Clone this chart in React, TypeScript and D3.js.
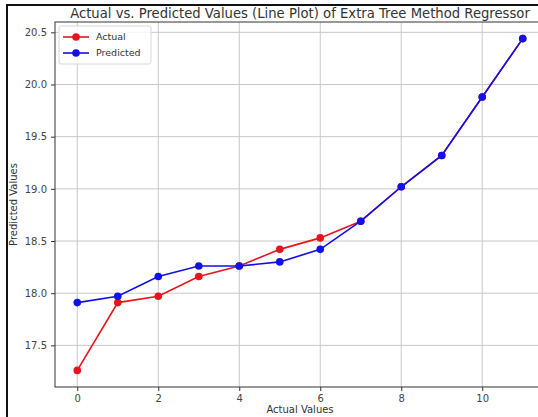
import React, { useEffect, useRef } from "react";
import * as d3 from "d3";

// values
const indexes = [0, 1, 2, 3, 4, 5, 6, 7, 8, 9, 10, 11];
const actualValues = [17.26, 17.91, 17.97, 18.16, 18.26, 18.42, 18.53, 18.69, 19.02, 19.32, 19.88, 20.44];
const predictedValues = [17.91, 17.97, 18.16, 18.26, 18.26, 18.3, 18.42, 18.69, 19.02, 19.32, 19.88, 20.44];
const xTicks = [0, 2, 4, 6, 8, 10];
const yTicks = [17.5, 18.0, 18.5, 19.0, 19.5, 20.0, 20.5];
const seriesNames = ["Actual", "Predicted"];
const seriesColors = ["#e8141c", "#1010e8"];

const W = 538;
const H = 417;

export default function App() {
  const ref = useRef<SVGSVGElement>(null);

  useEffect(() => {
    const svg = d3.select(ref.current);
    svg.selectAll("*").remove();

    const left = 55, right = 545, top = 22, bottom = 387;
    const font = "DejaVu Sans, sans-serif";

    svg.append("rect").attr("width", W).attr("height", H).attr("fill", "white");

    // pad 5% like matplotlib
    const x = d3.scaleLinear().domain([-0.55, 11.55]).range([left, right]);
    const allVals = actualValues.concat(predictedValues);
    const lo = d3.min(allVals) as number, hi = d3.max(allVals) as number;
    const pad = (hi - lo) * 0.05;
    const y = d3.scaleLinear().domain([lo - pad, hi + pad]).range([bottom, top]);

    // grid
    const grid = svg.append("g").attr("stroke", "#c8c8c8").attr("stroke-width", 1);
    xTicks.forEach(t => {
      grid.append("line").attr("x1", x(t)).attr("x2", x(t)).attr("y1", top).attr("y2", bottom);
    });
    yTicks.forEach(t => {
      grid.append("line").attr("x1", left).attr("x2", right).attr("y1", y(t)).attr("y2", y(t));
    });

    // axes
    const xAxis = svg.append("g")
      .attr("transform", `translate(0, ${bottom})`)
      .call(d3.axisBottom(x).tickValues(xTicks).tickFormat(d3.format("d")).tickSize(4).tickPadding(4));
    const yAxis = svg.append("g")
      .attr("transform", `translate(${left}, 0)`)
      .call(d3.axisLeft(y).tickValues(yTicks).tickFormat(d3.format(".1f")).tickSize(4).tickPadding(4));
    [xAxis, yAxis].forEach(a => {
      a.select(".domain").remove();
      a.selectAll("line").attr("stroke", "#333");
      a.selectAll("text").attr("font-family", font).attr("font-size", 10).attr("fill", "#444");
    });

    // spines
    svg.append("rect")
      .attr("x", left).attr("y", top)
      .attr("width", right - left).attr("height", bottom - top)
      .attr("fill", "none").attr("stroke", "#333").attr("stroke-width", 1);

    const line = d3.line<number>()
      .x((d, i) => x(indexes[i]))
      .y(d => y(d));

    [actualValues, predictedValues].forEach((vals, s) => {
      svg.append("path")
        .datum(vals)
        .attr("fill", "none")
        .attr("stroke", seriesColors[s])
        .attr("stroke-width", 1.6)
        .attr("d", line);
      svg.append("g").selectAll("circle")
        .data(vals)
        .join("circle")
        .attr("cx", (d, i) => x(indexes[i]))
        .attr("cy", d => y(d))
        .attr("r", 3.8)
        .attr("fill", seriesColors[s]);
    });

    // legend
    const legend = svg.append("g");
    legend.append("rect")
      .attr("x", 59).attr("y", 26).attr("width", 92).attr("height", 38).attr("rx", 2)
      .attr("fill", "white").attr("fill-opacity", 0.85)
      .attr("stroke", "#d8d8d8");
    seriesNames.forEach((name, i) => {
      const ly = 37 + i * 16;
      legend.append("line").attr("x1", 63).attr("x2", 89).attr("y1", ly).attr("y2", ly)
        .attr("stroke", seriesColors[i]).attr("stroke-width", 1.6);
      legend.append("circle").attr("cx", 76).attr("cy", ly).attr("r", 3.8).attr("fill", seriesColors[i]);
      legend.append("text").attr("x", 96).attr("y", ly).attr("dy", "0.35em")
        .attr("font-family", font).attr("font-size", 9.5).attr("fill", "#333").text(name);
    });

    // title + labels
    svg.append("text")
      .attr("x", (left + right) / 2).attr("y", 18)
      .attr("text-anchor", "middle")
      .attr("font-family", font).attr("font-size", 13.2).attr("fill", "#333")
      .text("Actual vs. Predicted Values (Line Plot) of Extra Tree Method Regressor");
    svg.append("text")
      .attr("x", (left + right) / 2).attr("y", 413)
      .attr("text-anchor", "middle")
      .attr("font-family", font).attr("font-size", 10).attr("fill", "#333")
      .text("Actual Values");
    svg.append("text")
      .attr("transform", `translate(17, ${(top + bottom) / 2}) rotate(-90)`)
      .attr("text-anchor", "middle")
      .attr("font-family", font).attr("font-size", 10).attr("fill", "#333")
      .text("Predicted Values");

    // outer frame of the screenshot
    svg.append("path")
      .attr("d", `M${W + 2},5 H7 V${H + 2}`)
      .attr("fill", "none").attr("stroke", "#111").attr("stroke-width", 2);
  }, []);

  return (
    <svg
      ref={ref}
      width={W}
      height={H}
      style={{ position: "absolute", left: 0, top: 0, display: "block" }}
    />
  );
}
